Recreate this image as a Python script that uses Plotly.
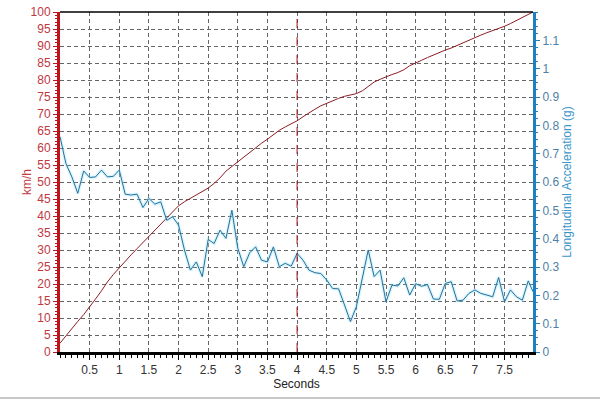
import plotly.graph_objects as go

time_s = [0.0, 0.1, 0.2, 0.3, 0.4, 0.5, 0.6, 0.7, 0.8, 0.9,
          1.0, 1.1, 1.2, 1.3, 1.4, 1.5, 1.6, 1.7, 1.8, 1.9,
          2.0, 2.1, 2.2, 2.3, 2.4, 2.5, 2.6, 2.7, 2.8, 2.9,
          3.0, 3.1, 3.2, 3.3, 3.4, 3.5, 3.6, 3.7, 3.8, 3.9,
          4.0, 4.1, 4.2, 4.3, 4.4, 4.5, 4.6, 4.7, 4.8, 4.9,
          5.0, 5.1, 5.2, 5.3, 5.4, 5.5, 5.6, 5.7, 5.8, 5.9,
          6.0, 6.1, 6.2, 6.3, 6.4, 6.5, 6.6, 6.7, 6.8, 6.9,
          7.0, 7.1, 7.2, 7.3, 7.4, 7.5, 7.6, 7.7, 7.8, 7.9, 7.98]

speed_kmh = [2.6, 4.8, 7.0, 9.0, 11.0, 13.2, 15.6, 18.0, 20.6, 22.8,
             24.8, 26.8, 28.6, 30.4, 32.2, 34.2, 36.0, 37.8, 39.6, 41.4,
             43.0, 44.2, 45.2, 46.2, 47.2, 48.2, 49.6, 51.2, 53.2, 54.6,
             56.0, 57.4, 58.6, 60.0, 61.4, 62.6, 64.0, 65.2, 66.2, 67.0,
             68.0, 69.2, 70.4, 71.4, 72.4, 73.2, 73.9, 74.6, 75.2, 75.6,
             76.0, 76.8, 78.2, 79.4, 80.2, 81.0, 81.6, 82.2, 83.0, 84.2,
             84.9, 85.8, 86.6, 87.4, 88.0, 88.8, 89.4, 90.2, 90.9, 91.6,
             92.4, 93.2, 93.9, 94.5, 95.1, 95.8, 96.6, 97.5, 98.4, 99.2, 100.0]

accel_g = [0.76, 0.665, 0.618, 0.56, 0.639, 0.616, 0.618, 0.642, 0.618, 0.62,
           0.642, 0.557, 0.554, 0.557, 0.51, 0.542, 0.522, 0.53, 0.465, 0.477,
           0.448, 0.36, 0.289, 0.318, 0.266, 0.397, 0.383, 0.43, 0.401, 0.5,
           0.366, 0.301, 0.35, 0.371, 0.324, 0.318, 0.371, 0.301, 0.313, 0.303,
           0.348, 0.324, 0.289, 0.28, 0.277, 0.254, 0.224, 0.223, 0.166, 0.107,
           0.16, 0.266, 0.36, 0.266, 0.289, 0.177, 0.236, 0.233, 0.262, 0.201,
           0.241, 0.232, 0.238, 0.187, 0.186, 0.242, 0.248, 0.18, 0.183, 0.207,
           0.219, 0.207, 0.201, 0.195, 0.263, 0.177, 0.219, 0.195, 0.183, 0.251, 0.213]

x_ticks = [0.5, 1, 1.5, 2, 2.5, 3, 3.5, 4, 4.5, 5, 5.5, 6, 6.5, 7, 7.5]
x_ticklabels = ["0.5", "1", "1.5", "2", "2.5", "3", "3.5", "4", "4.5", "5",
                "5.5", "6", "6.5", "7", "7.5"]
left_ticks = [0, 5, 10, 15, 20, 25, 30, 35, 40, 45, 50, 55, 60, 65, 70, 75, 80, 85, 90, 95, 100]
right_ticks = [0, 0.1, 0.2, 0.3, 0.4, 0.5, 0.6, 0.7, 0.8, 0.9, 1, 1.1]
right_ticklabels = ["0", "0.1", "0.2", "0.3", "0.4", "0.5", "0.6", "0.7", "0.8", "0.9", "1", "1.1"]
cursor_time = 4

FONT = "Liberation Sans, Arial, sans-serif"
RED = "#c0141c"
BLUE = "#1f7fc0"
GRID = "#666666"
DASH = "4px,3px"

fig = go.Figure()

# glow under acceleration line
fig.add_trace(go.Scatter(x=time_s, y=accel_g, yaxis="y2", mode="lines",
                         line=dict(color="rgba(140,225,255,0.35)", width=3.5),
                         hoverinfo="skip", showlegend=False))
fig.add_trace(go.Scatter(x=time_s, y=accel_g, yaxis="y2", mode="lines",
                         line=dict(color="#2a6f96", width=1),
                         name="Longitudinal Acceleration (g)", showlegend=False))
fig.add_trace(go.Scatter(x=time_s, y=speed_kmh, yaxis="y", mode="lines",
                         line=dict(color="#8e1c24", width=1),
                         name="km/h", showlegend=False))

fig.update_layout(
    width=600, height=400,
    margin=dict(l=60, r=67, t=12, b=48),
    paper_bgcolor="white", plot_bgcolor="white",
    font=dict(family=FONT, size=12, color="#222"),
    xaxis=dict(
        range=[0, 7.98], tickvals=x_ticks, ticktext=x_ticklabels, automargin=False,
        showline=True, linecolor="black", linewidth=3,
        ticks="outside", ticklen=5, tickcolor="black", tickwidth=1,
        showgrid=True, gridcolor=GRID, griddash=DASH, gridwidth=1,
        zeroline=False,
        minor=dict(dtick=0.1, ticklen=3, tickcolor="black", showgrid=False, ticks="outside"),
        tickfont=dict(family=FONT, size=12, color="#333"),
        title=dict(text="Seconds", font=dict(family=FONT, size=12, color="#222"), standoff=0),
    ),
    yaxis=dict(
        range=[0, 100], tickvals=left_ticks, automargin=False,
        showline=True, linecolor=RED, linewidth=3,
        ticks="outside", ticklen=4, tickcolor=RED,
        showgrid=True, gridcolor=GRID, griddash=DASH, gridwidth=1,
        zeroline=False,
        minor=dict(dtick=1, ticklen=2, tickcolor=RED, showgrid=False, ticks="outside"),
        tickfont=dict(family=FONT, size=12, color="#c0393f"),
    ),
    yaxis2=dict(
        range=[0, 1.2], tickvals=right_ticks, ticktext=right_ticklabels, automargin=False,
        overlaying="y", side="right", anchor="x",
        showline=True, linecolor=BLUE, linewidth=3,
        ticks="outside", ticklen=4, tickcolor=BLUE,
        showgrid=False, zeroline=False,
        minor=dict(dtick=0.025, ticklen=2, tickcolor=BLUE, showgrid=False, ticks="outside"),
        tickfont=dict(family=FONT, size=12, color="#4f7fa6"),
        title=dict(text="Longitudinal Acceleration (g)",
                   font=dict(family=FONT, size=12, color="#3c96c8"), standoff=5),
    ),
    annotations=[
        dict(text="km/h", xref="paper", yref="paper", x=0, y=0.5, xshift=-33,
             textangle=-90, showarrow=False, xanchor="center", yanchor="middle",
             font=dict(family=FONT, size=12, color="#c0393f")),
    ],
    shapes=[
        dict(type="line", xref="paper", yref="paper", x0=0, x1=1, y0=1, y1=1,
             line=dict(color="black", width=1.5)),
        dict(type="line", xref="x", yref="paper", x0=cursor_time, x1=cursor_time, y0=0, y1=1,
             line=dict(color="#a0101a", width=1, dash="dash")),
        dict(type="line", xref="paper", yref="paper", x0=-0.13, x1=1.15, y0=-0.135, y1=-0.135,
             line=dict(color="#c8c8c8", width=2)),
    ],
)

fig.write_html("out.html", config={"displayModeBar": False},
               post_script="document.body.style.margin='0';document.body.style.overflow='hidden';")
